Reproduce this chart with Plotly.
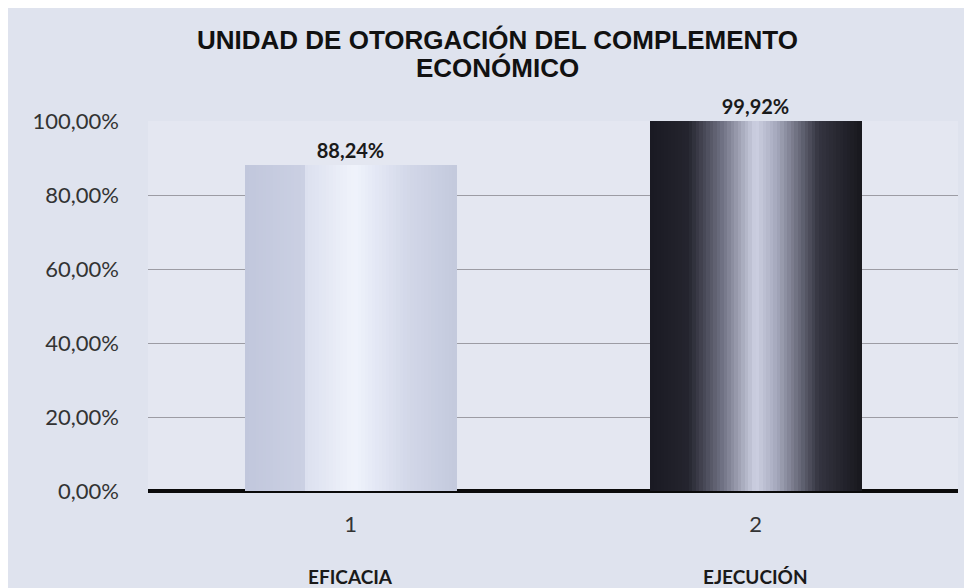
import plotly.graph_objects as go

# ---- data ----
categories = [1, 2]
category_ticks = ["1", "2"]
category_names = ["EFICACIA", "EJECUCIÓN"]
values = [0.8824, 0.9992]
value_labels = ["88,24%", "99,92%"]
title_lines = ["UNIDAD DE OTORGACIÓN DEL COMPLEMENTO", "ECONÓMICO"]

# ---- style: horizontal gradient profiles for each bar ----
grad_light = [(0.0, (193, 199, 220)), (0.28, (203, 208, 227)), (0.29, (220, 224, 239)),
              (0.52, (240, 243, 251)), (0.62, (228, 232, 245)), (0.78, (210, 215, 232)),
              (1.0, (195, 201, 221))]
grad_dark = [(0.0, (26, 26, 34)), (0.18, (36, 36, 46)), (0.35, (115, 117, 135)),
             (0.5, (205, 208, 226)), (0.6, (165, 168, 188)), (0.8, (52, 52, 64)),
             (1.0, (24, 24, 30))]
gradients = [grad_light, grad_dark]


def interp(stops, t):
    for (t0, c0), (t1, c1) in zip(stops[:-1], stops[1:]):
        if t0 <= t <= t1:
            f = 0 if t1 == t0 else (t - t0) / (t1 - t0)
            c = [round(a + (b - a) * f) for a, b in zip(c0, c1)]
            return f"rgb({c[0]},{c[1]},{c[2]})"
    c = stops[-1][1]
    return f"rgb({c[0]},{c[1]},{c[2]})"


BAR_W = 0.52
N = 60
fig = go.Figure()
for k in range(N):
    t = (k + 0.5) / N
    fig.add_trace(go.Bar(
        x=categories, y=values,
        width=BAR_W / N + 0.002,
        offset=-BAR_W / 2 + k * BAR_W / N,
        marker=dict(color=[interp(g, t) for g in gradients], line=dict(width=0)),
        hoverinfo="skip", showlegend=False,
    ))

# data labels
fig.add_trace(go.Bar(
    x=categories, y=values, width=BAR_W,
    marker=dict(color="rgba(0,0,0,0)", line=dict(width=0)),
    text=value_labels, textposition="outside", cliponaxis=False,
    textfont=dict(family="Lato, Arial", size=20, color="#1a1a1a", weight="bold"),
    showlegend=False,
))

# bottom category names
for c, name in zip(categories, category_names):
    fig.add_annotation(x=c, xref="x", y=-0.23, yref="paper", text=f"<b>{name}</b>",
                       showarrow=False, yanchor="middle",
                       font=dict(family="Lato, Arial", size=19, color="#1a1a1a"))

# title (two lines, tight spacing)
for line, yy in zip(title_lines, [1.219, 1.142]):
    fig.add_annotation(x=0.431, xref="paper", y=yy, yref="paper", text=f"<b>{line}</b>",
                       showarrow=False, xanchor="center", yanchor="middle",
                       font=dict(family="Liberation Sans, Arial", size=26, color="#111111"))

# page body has an 8px margin, so the figure is 8px smaller and its margins shifted
fig.update_layout(
    width=964, height=580,
    barmode="overlay", bargap=0,
    separators=",.",
    paper_bgcolor="#dfe3ee",
    plot_bgcolor="#e4e7f1",
    margin=dict(l=140, r=14, t=113, b=97),
    xaxis=dict(range=[0.5, 2.5], tickvals=categories, ticktext=category_ticks,
               showgrid=False, showline=False, zeroline=False,
               ticks="outside", ticklen=14, tickcolor="rgba(0,0,0,0)",
               tickfont=dict(family="Lato, Arial", size=22, color="#333333")),
    yaxis=dict(range=[0, 1.0], dtick=0.2, tickformat=".2%",
               showgrid=True, gridcolor="#9c9ca4", gridwidth=1,
               zeroline=True, zerolinecolor="#0a0a0a", zerolinewidth=4,
               showline=False, ticks="", ticklabelstandoff=28,
               tickfont=dict(family="Lato, Arial", size=22, color="#333333")),
)

fig.write_html("out.html")
